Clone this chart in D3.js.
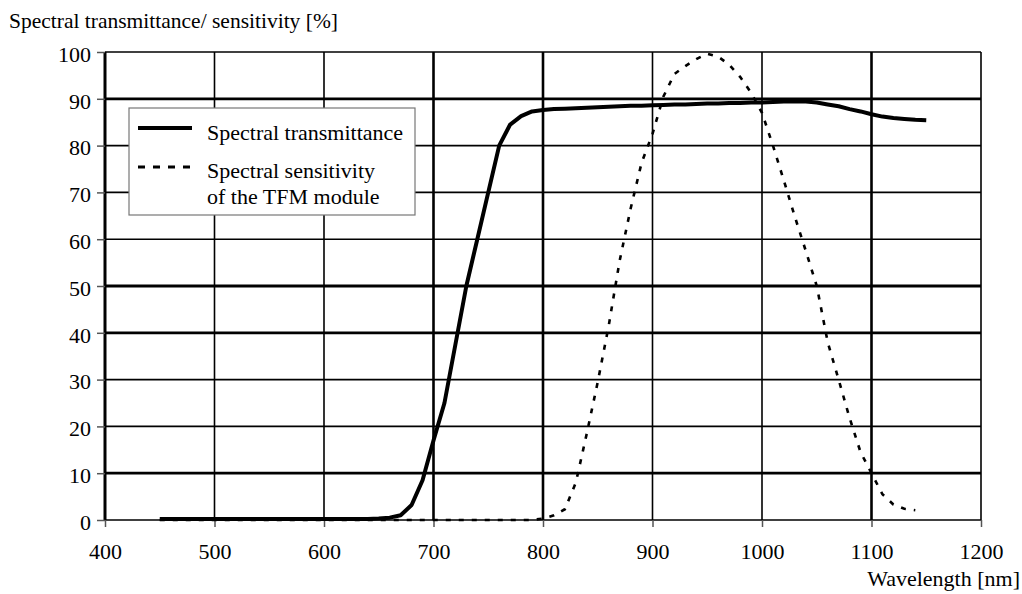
<!DOCTYPE html>
<html>
<head>
<meta charset="utf-8">
<script src="https://cdn.jsdelivr.net/npm/d3@7"></script>
<style>
  body { margin: 0; background: #fff; }
  svg text { font-family: "Liberation Serif", "Times New Roman", Times, "DejaVu Serif", serif; }
</style>
</head>
<body>
<script>
// Dimensions
const width = 1022;
const height = 594;
const serif = "'Liberation Serif', 'Times New Roman', Times, 'DejaVu Serif', serif";

// données
const wavelengths = [450, 460, 470, 480, 490, 500, 510, 520, 530, 540, 550, 560, 570, 580, 590,
  600, 610, 620, 630, 640, 650, 660, 670, 680, 690, 700, 710, 720, 730, 740, 750, 760, 770, 780, 790,
  800, 810, 820, 830, 840, 850, 860, 870, 880, 890, 900, 910, 920, 930, 940, 950, 960, 970, 980, 990,
  1000, 1010, 1020, 1030, 1040, 1050, 1060, 1070, 1080, 1090, 1100, 1110, 1120, 1130, 1140, 1150];

const transmittance = [0.2, 0.2, 0.2, 0.2, 0.2, 0.2, 0.2, 0.2, 0.2, 0.2, 0.2, 0.2, 0.2, 0.2, 0.2,
  0.2, 0.2, 0.2, 0.2, 0.2, 0.3, 0.5, 1.0, 3.2, 8.5, 17, 25, 37.5, 50, 60, 70, 80, 84.5, 86.3, 87.3,
  87.6, 87.8, 87.9, 88.0, 88.1, 88.2, 88.3, 88.4, 88.5, 88.5, 88.6, 88.7, 88.8, 88.8, 88.9, 89.0, 89.0, 89.1, 89.1, 89.2,
  89.2, 89.3, 89.4, 89.5, 89.4, 89.2, 88.8, 88.4, 87.8, 87.3, 86.7, 86.2, 85.9, 85.7, 85.5, 85.4];

const sensitivity = [0, 0, 0, 0, 0, 0, 0, 0, 0, 0, 0, 0, 0, 0, 0,
  0, 0, 0, 0, 0, 0, 0, 0, 0, 0, 0, 0, 0, 0, 0, 0, 0, 0, 0, 0,
  0.3, 1.0, 2.3, 8, 18.5, 29.5, 41.5, 55.4, 66.5, 76.3, 82.5, 90.5, 95.3, 97, 98.5, 99.6, 99, 97.3, 94.7, 91.3,
  87, 80, 72.5, 64.8, 57.5, 50, 38, 30, 21.8, 14.5, 10, 5.5, 3.3, 2.4, 2.1, null];

const xTicks = [400, 500, 600, 700, 800, 900, 1000, 1100, 1200];
const yTicks = [0, 10, 20, 30, 40, 50, 60, 70, 80, 90, 100];

const seriesNames = ["Spectral transmittance", "Spectral sensitivity", "of the TFM module"];

// épaisseurs du quadrillage (l'original est un scan, certaines lignes sont plus grasses)
const thickX = [700, 800, 1100];
const thickY = [10, 40, 50, 90];

const svg = d3.select("body").append("svg")
  .attr("width", width)
  .attr("height", height)
  .attr("font-family", serif);

const x = d3.scaleLinear().domain([400, 1200]).range([105, 981]);
const y = d3.scaleLinear().domain([0, 100]).range([520, 52]);

// quadrillage
svg.append("g").selectAll("line")
  .data(yTicks)
  .join("line")
  .attr("x1", x(400)).attr("x2", x(1200))
  .attr("y1", d => y(d)).attr("y2", d => y(d))
  .attr("stroke", "#000")
  .attr("stroke-width", d => thickY.includes(d) ? 2.8 : 1.6);

svg.append("g").selectAll("line")
  .data(xTicks)
  .join("line")
  .attr("x1", d => x(d)).attr("x2", d => x(d))
  .attr("y1", y(0)).attr("y2", y(100))
  .attr("stroke", "#000")
  .attr("stroke-width", d => d === 400 ? 3 : (thickX.includes(d) ? 2.6 : 1.6));

// axes (ticks + labels)
const xAxis = svg.append("g")
  .attr("transform", `translate(0,${y(0)})`)
  .call(d3.axisBottom(x).tickValues(xTicks).tickSize(7).tickPadding(16).tickFormat(d3.format("d")))
  .attr("font-family", serif)
  .attr("font-size", 22);
xAxis.select(".domain").remove();
xAxis.selectAll(".tick line").attr("stroke", "#555").attr("stroke-width", 1.5);
xAxis.selectAll(".tick text").attr("fill", "#000");

const yAxis = svg.append("g")
  .attr("transform", `translate(${x(400)},0)`)
  .call(d3.axisLeft(y).tickValues(yTicks).tickSize(8).tickPadding(6).tickFormat(d3.format("d")))
  .attr("font-family", serif)
  .attr("font-size", 22);
yAxis.select(".domain").remove();
yAxis.selectAll(".tick line").attr("stroke", "#555").attr("stroke-width", 1.5);
yAxis.selectAll(".tick text").attr("fill", "#000").attr("dy", "0.42em");

// titres des axes
svg.append("text")
  .attr("x", 9).attr("y", 28)
  .attr("font-size", 21.5)
  .text("Spectral transmittance/ sensitivity [%]");

svg.append("text")
  .attr("x", 1020).attr("y", 586)
  .attr("text-anchor", "end")
  .attr("font-size", 22)
  .text("Wavelength [nm]");

// courbes
const pts = wavelengths.map((w, i) => ({ w, t: transmittance[i], s: sensitivity[i] }));

const lineS = d3.line()
  .defined(d => d.s !== null)
  .x(d => x(d.w)).y(d => y(d.s));

const lineT = d3.line()
  .x(d => x(d.w)).y(d => y(d.t));

svg.append("path")
  .datum(pts)
  .attr("d", lineS)
  .attr("fill", "none")
  .attr("stroke", "#000")
  .attr("stroke-width", 2.6)
  .attr("stroke-dasharray", "5,8");

svg.append("path")
  .datum(pts)
  .attr("d", lineT)
  .attr("fill", "none")
  .attr("stroke", "#000")
  .attr("stroke-width", 4)
  .attr("stroke-linejoin", "round");

// légende
const legend = svg.append("g");
legend.append("rect")
  .attr("x", 129).attr("y", 108)
  .attr("width", 286).attr("height", 107)
  .attr("fill", "#fff")
  .attr("stroke", "#777")
  .attr("stroke-width", 1.2);

legend.append("line")
  .attr("x1", 138).attr("x2", 192).attr("y1", 128).attr("y2", 128)
  .attr("stroke", "#000").attr("stroke-width", 4);

legend.append("line")
  .attr("x1", 138).attr("x2", 192).attr("y1", 167).attr("y2", 167)
  .attr("stroke", "#000").attr("stroke-width", 3)
  .attr("stroke-dasharray", "7,8");

legend.selectAll("text.leg")
  .data(seriesNames)
  .join("text")
  .attr("class", "leg")
  .attr("x", 207)
  .attr("y", (d, i) => [140, 178, 204][i])
  .attr("font-size", 22)
  .text(d => d);
</script>
</body>
</html>
